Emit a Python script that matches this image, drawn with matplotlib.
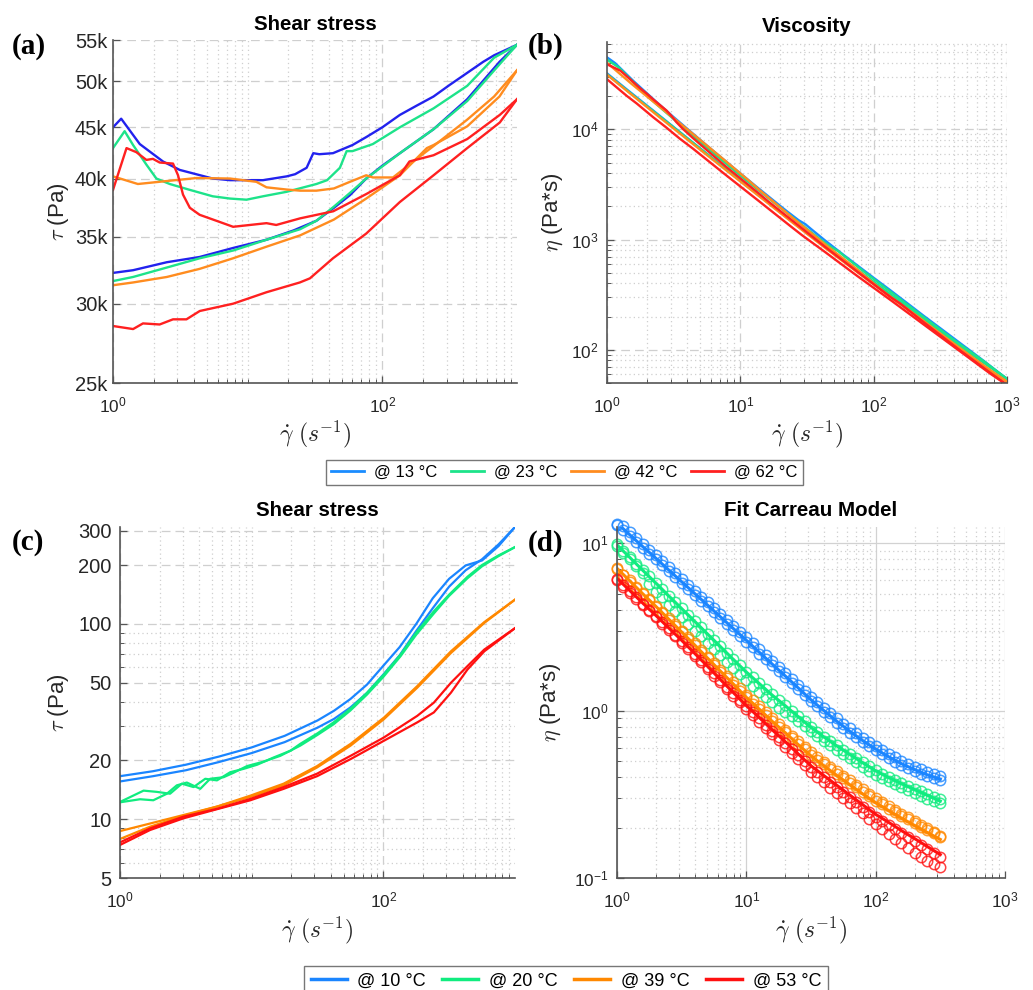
import numpy as np
import matplotlib
matplotlib.use("Agg")
import matplotlib.pyplot as plt
from matplotlib.lines import Line2D
from matplotlib.ticker import FixedLocator, FixedFormatter, NullFormatter, NullLocator

plt.rcParams['font.family'] = ['Liberation Sans', 'DejaVu Sans']
plt.rcParams['mathtext.fontset'] = 'cm'

# ---------------- (a) shear stress loops, stress in kPa ----------------
A13_UP_G = [1.0, 1.15, 1.58, 2.35, 3.13, 5.5, 7.4, 13.0, 19.5, 22.5, 27.4, 30.7, 34.0, 43.0, 60, 76, 100, 135, 180, 240, 316, 427, 560, 676, 1000]
A13_UP_T = [45.0, 45.9, 43.3, 41.6, 40.8, 40.0, 39.85, 39.85, 40.2, 40.4, 41.0, 42.4, 42.3, 42.4, 43.2, 44.0, 45.0, 46.3, 47.3, 48.3, 49.6, 51.0, 52.3, 53.1, 54.4]
A13_DN_G = [1, 1.41, 2.51, 4.4, 7.8, 13.8, 21.9, 32.4, 43.7, 57.5, 75.9, 100, 135, 240, 427, 741, 1000]
A13_DN_T = [32.2, 32.4, 33.0, 33.4, 34.1, 34.75, 35.5, 36.3, 37.4, 38.5, 40.0, 41.2, 42.4, 44.8, 48.0, 52.3, 54.4]

A23_UP_G = [1.0, 1.22, 1.41, 1.77, 2.1, 2.64, 3.72, 5.5, 7.4, 9.8, 13.0, 19.5, 32.4, 38.9, 48.4, 54.3, 60, 85, 135, 240, 427, 676, 1000]
A23_UP_T = [42.9, 44.6, 43.2, 41.3, 40.0, 39.5, 38.97, 38.4, 38.2, 38.1, 38.4, 38.8, 39.5, 39.85, 41.0, 42.6, 42.6, 43.3, 45.0, 47.0, 49.5, 52.8, 54.4]
A23_DN_G = [1, 1.41, 2.51, 4.4, 7.8, 13.8, 24.5, 32.4, 43.7, 57.5, 75.9, 135, 240, 427, 741, 1000]
A23_DN_T = [31.6, 31.9, 32.6, 33.3, 33.9, 34.75, 35.6, 36.3, 37.5, 38.7, 40.0, 42.4, 44.8, 47.8, 52.0, 54.4]

A42_UP_G = [1, 1.53, 2.9, 4.2, 7.4, 11.6, 13.8, 19.5, 24.5, 32.4, 43.7, 57.5, 75.9, 85, 120, 182, 240, 427, 676, 1000]
A42_UP_T = [40.2, 39.5, 39.85, 40.05, 40.0, 39.7, 39.2, 39.0, 38.9, 38.9, 39.1, 39.7, 40.3, 40.1, 40.1, 41.9, 43.1, 45.8, 48.3, 51.3]
A42_DN_G = [1, 1.41, 2.51, 4.4, 7.8, 13.8, 24.5, 43.7, 75.9, 135, 214, 240, 427, 741, 1000]
A42_DN_T = [31.3, 31.5, 31.9, 32.5, 33.3, 34.2, 35.1, 36.4, 38.2, 40.3, 42.9, 43.2, 45.1, 48.3, 51.3]

A62_UP_G = [1, 1.26, 1.49, 1.77, 1.98, 2.22, 2.79, 3.04, 3.31, 3.72, 4.4, 6.2, 7.8, 13.8, 16.3, 24.5, 43.2, 76, 135, 159, 240, 427, 745, 1000]
A62_UP_T = [38.97, 42.9, 42.5, 41.75, 41.85, 41.5, 41.4, 40.3, 38.55, 37.4, 36.8, 36.2, 35.8, 36.1, 35.95, 36.5, 37.1, 38.6, 40.3, 41.6, 42.2, 43.8, 46.3, 48.0]
A62_DN_G = [1, 1.41, 1.67, 2.22, 2.79, 3.51, 4.41, 7.8, 13.8, 24.4, 29, 43, 76, 135, 240, 427, 745, 1000]
A62_DN_T = [28.5, 28.3, 28.67, 28.6, 28.94, 28.94, 29.5, 30.0, 30.8, 31.5, 31.8, 33.3, 35.25, 37.9, 40.3, 42.9, 45.5, 48.0]

A_LOOPS = {
    13: [(A13_UP_G, A13_UP_T), (A13_DN_G, A13_DN_T)],
    23: [(A23_UP_G, A23_UP_T), (A23_DN_G, A23_DN_T)],
    42: [(A42_UP_G, A42_UP_T), (A42_DN_G, A42_DN_T)],
    62: [(A62_UP_G, A62_UP_T), (A62_DN_G, A62_DN_T)],
}
A_TEMPS = [13, 23, 42, 62]

# ---------------- (c) shear stress, Pa ----------------
C_GRID = [1, 1.78, 3.16, 5.62, 10, 17.8, 31.6, 42.2, 56.2, 75, 100, 133, 178, 237, 316, 422, 562, 750, 1000]
C10_UP_T = [16.6, 17.6, 19.0, 20.9, 23.3, 26.7, 32.0, 35.9, 41.2, 48.8, 61, 76, 100, 135, 170, 199, 211, 250, 313]
C10_DN_T = [15.6, 16.6, 17.8, 19.6, 21.8, 24.8, 29.4, 32.6, 37.3, 44.2, 55, 69, 92, 120, 155, 188, 214, 255, 313]

C20_UP_G = [1, 1.51, 1.9, 2.4, 2.95, 3.62, 4.44, 5.45, 6.88, 8.69, 11.0, 14.7, 19.7, 23.4,
            31.6, 41.9, 56.2, 75.3, 100, 135, 178, 242, 316, 435, 562, 750, 1000]
C20_UP_T = [12.25, 14.0, 13.8, 13.5, 15.2, 14.6, 16.1, 15.8, 17.4, 18.1, 19.0, 20.7, 22.4, 24.3,
            27.5, 31.3, 36.7, 44.4, 54.6, 69.5, 90.2, 116, 141, 174, 200, 224, 247]
C20_DN_G = [1, 1.42, 1.79, 2.27, 2.7, 3.22, 4.07, 4.84, 6.12, 7.3, 9.22, 12.3, 16.5, 23.4,
            31.6, 41.9, 56.2, 75.3, 100, 135, 178, 242, 316, 435, 562, 750, 1000]
C20_DN_T = [12.2, 12.65, 12.5, 13.5, 14.9, 15.4, 14.3, 16.1, 16.4, 17.3, 18.7, 19.7, 21.1, 23.8,
            27.0, 30.6, 36.0, 43.5, 53.5, 68.2, 88.1, 113, 139, 171, 197, 222, 247]

C39_UP_G = [1, 1.69, 3.03, 5.45, 9.78, 17.5, 31.4, 56.4, 101, 181, 326, 584, 1000]
C39_UP_T = [8.69, 9.5, 10.5, 11.6, 13.0, 14.9, 18.4, 23.8, 32.5, 47.1, 70.9, 101, 133]
C39_DN_G = [1, 1.69, 3.03, 5.45, 9.78, 17.5, 31.4, 56.4, 101, 181, 326, 584, 1000]
C39_DN_T = [7.92, 9.15, 10.4, 11.6, 13.2, 15.2, 18.7, 24.3, 33.1, 48.0, 72.3, 102, 133]

C53_UP_G = [1, 1.69, 3.03, 5.45, 9.78, 17.5, 31.4, 56.4, 101, 181, 242, 326, 435, 584, 1000]
C53_UP_T = [7.61, 8.97, 10.3, 11.3, 12.7, 14.6, 17.1, 21.1, 26.2, 33.8, 39.5, 49.9, 60.7, 73.8, 95]
C53_DN_G = [1, 1.69, 3.03, 5.45, 9.78, 17.5, 31.4, 56.4, 101, 181, 242, 326, 435, 584, 1000]
C53_DN_T = [7.38, 8.8, 10.1, 11.25, 12.5, 14.3, 16.6, 20.3, 25.2, 31.3, 35.2, 44.4, 58.3, 72.3, 95]

C_LOOPS = {
    10: [(C_GRID, C10_UP_T), (C_GRID, C10_DN_T)],
    20: [(C20_UP_G, C20_UP_T), (C20_DN_G, C20_DN_T)],
    39: [(C39_UP_G, C39_UP_T), (C39_DN_G, C39_DN_T)],
    53: [(C53_UP_G, C53_UP_T), (C53_DN_G, C53_DN_T)],
}
C_TEMPS = [10, 20, 39, 53]

# ---------------- (d) viscosity data (two sweeps) and Carreau fits, Pa*s ----------------
GAMMA_D = [1.00, 1.12, 1.26, 1.41, 1.58, 1.78, 2.00, 2.24, 2.51, 2.82,
           3.16, 3.55, 3.98, 4.47, 5.01, 5.62, 6.31, 7.08, 7.94, 8.91,
           10.0, 11.2, 12.6, 14.1, 15.8, 17.8, 20.0, 22.4, 25.1, 28.2,
           31.6, 35.5, 39.8, 44.7, 50.1, 56.2, 63.1, 70.8, 79.4, 89.1,
           100, 112, 126, 141, 158, 178, 200, 224, 251, 282, 316]

D10_A = [13.1, 12.0, 11.0, 10.2, 9.4, 8.65, 8.0, 7.37, 6.8, 6.27,
         5.79, 5.33, 4.92, 4.54, 4.19, 3.87, 3.57, 3.29, 3.04, 2.8,
         2.58, 2.39, 2.19, 2.02, 1.87, 1.72, 1.58, 1.46, 1.35, 1.24,
         1.14, 1.06, 0.98, 0.91, 0.848, 0.79, 0.738, 0.692, 0.65, 0.613,
         0.579, 0.548, 0.521, 0.496, 0.474, 0.453, 0.436, 0.42, 0.406, 0.394, 0.383]
D10_B = [12.9, 12.7, 11.65, 10.8, 9.93, 9.16, 8.46, 7.8, 7.2, 6.64,
         6.13, 5.65, 5.21, 4.8, 4.44, 4.1, 3.78, 3.48, 3.21, 2.96,
         2.74, 2.53, 2.32, 2.14, 1.98, 1.82, 1.67, 1.55, 1.42, 1.31,
         1.21, 1.12, 1.04, 0.964, 0.898, 0.837, 0.782, 0.733, 0.688, 0.649,
         0.613, 0.58, 0.551, 0.525, 0.501, 0.479, 0.462, 0.445, 0.43, 0.417, 0.405]
D20_A = [9.9, 9.0, 8.25, 7.55, 6.9, 6.35, 5.8, 5.32, 4.87, 4.46,
         4.08, 3.74, 3.43, 3.14, 2.88, 2.64, 2.42, 2.22, 2.03, 1.86,
         1.71, 1.58, 1.46, 1.35, 1.25, 1.16, 1.08, 1.0, 0.93, 0.865,
         0.80, 0.75, 0.70, 0.66, 0.62, 0.585, 0.552, 0.52, 0.492, 0.466,
         0.44, 0.42, 0.40, 0.385, 0.37, 0.355, 0.342, 0.33, 0.318, 0.306, 0.295]
D20_B = [9.6, 8.8, 8.0, 7.3, 6.6, 5.7, 5.1, 4.75, 4.3, 3.95,
         3.6, 3.3, 3.0, 2.78, 2.55, 2.33, 2.14, 1.96, 1.80, 1.65,
         1.52, 1.40, 1.30, 1.20, 1.12, 1.04, 0.98, 0.93, 0.87, 0.81,
         0.755, 0.705, 0.66, 0.62, 0.585, 0.55, 0.518, 0.49, 0.462, 0.437,
         0.415, 0.395, 0.378, 0.362, 0.348, 0.335, 0.322, 0.31, 0.298, 0.288, 0.28]
D39_A = [7.0, 6.45, 5.9, 5.42, 4.96, 4.55, 4.17, 3.82, 3.5, 3.2,
         2.94, 2.69, 2.46, 2.24, 2.05, 1.87, 1.71, 1.56, 1.43, 1.31,
         1.2, 1.1, 1.02, 0.94, 0.87, 0.80, 0.745, 0.69, 0.635, 0.59,
         0.545, 0.51, 0.477, 0.447, 0.42, 0.394, 0.37, 0.348, 0.327, 0.308,
         0.29, 0.275, 0.26, 0.247, 0.235, 0.224, 0.213, 0.203, 0.194, 0.185, 0.176]
D39_B = [7.1, 6.5, 6.0, 5.5, 5.05, 4.62, 4.24, 3.9, 3.57, 3.27,
         3.0, 2.75, 2.52, 2.3, 2.1, 1.92, 1.76, 1.61, 1.48, 1.36,
         1.24, 1.15, 1.06, 0.975, 0.9, 0.83, 0.77, 0.71, 0.66, 0.61,
         0.565, 0.528, 0.494, 0.463, 0.434, 0.408, 0.383, 0.36, 0.339, 0.319,
         0.3, 0.284, 0.269, 0.255, 0.242, 0.23, 0.219, 0.208, 0.198, 0.188, 0.178]
D53_A = [6.1, 5.62, 5.15, 4.75, 4.36, 4.0, 3.67, 3.37, 3.1, 2.84,
         2.61, 2.39, 2.19, 2.0, 1.83, 1.67, 1.52, 1.39, 1.27, 1.16,
         1.06, 0.975, 0.898, 0.826, 0.759, 0.698, 0.642, 0.59, 0.542, 0.498,
         0.458, 0.428, 0.399, 0.373, 0.348, 0.326, 0.304, 0.284, 0.266, 0.249,
         0.233, 0.22, 0.208, 0.196, 0.186, 0.176, 0.166, 0.157, 0.149, 0.141, 0.133]
D53_B = [6.0, 5.5, 5.05, 4.65, 4.27, 3.92, 3.6, 3.3, 3.03, 2.78,
         2.55, 2.33, 2.13, 1.95, 1.78, 1.62, 1.48, 1.35, 1.23, 1.12,
         1.02, 0.94, 0.86, 0.79, 0.725, 0.665, 0.61, 0.56, 0.513, 0.47,
         0.43, 0.4, 0.372, 0.346, 0.322, 0.3, 0.28, 0.261, 0.243, 0.226,
         0.211, 0.197, 0.184, 0.172, 0.161, 0.151, 0.142, 0.134, 0.127, 0.121, 0.116]

# fitted curves, every other shear rate of GAMMA_D
D10_FIT = [13.2, 11.2, 9.55, 8.13, 6.92, 5.89, 5.01, 4.27, 3.63, 3.09, 2.63, 2.23, 1.90,
           1.61, 1.37, 1.16, 1.00, 0.863, 0.752, 0.662, 0.589, 0.530, 0.482, 0.444, 0.413, 0.389]
D20_FIT = [9.77, 8.20, 6.89, 5.78, 4.85, 4.07, 3.42, 2.87, 2.41, 2.02, 1.70, 1.45, 1.24,
           1.07, 0.920, 0.794, 0.695, 0.615, 0.547, 0.488, 0.437, 0.398, 0.366, 0.337, 0.312, 0.288]
D39_FIT = [7.08, 5.94, 4.99, 4.19, 3.52, 2.95, 2.47, 2.06, 1.72, 1.44, 1.20, 1.02, 0.865,
           0.738, 0.628, 0.537, 0.468, 0.410, 0.361, 0.318, 0.282, 0.253, 0.228, 0.206, 0.187, 0.170]
D53_FIT = [6.17, 5.20, 4.39, 3.70, 3.12, 2.63, 2.20, 1.84, 1.53, 1.28, 1.07, 0.908, 0.769,
           0.652, 0.552, 0.468, 0.409, 0.358, 0.313, 0.274, 0.240, 0.215, 0.192, 0.172, 0.154, 0.138]

D_SWEEPS = {10: (D10_A, D10_B), 20: (D20_A, D20_B), 39: (D39_A, D39_B), 53: (D53_A, D53_B)}
D_FIT = {10: D10_FIT, 20: D20_FIT, 39: D39_FIT, 53: D53_FIT}

# colours
TOP_LINE = {13: '#2222ee', 23: '#1de38a', 42: '#ff8c1f', 62: '#ff2020'}
TOP_LEG = {13: '#1a8cff', 23: '#1de38a', 42: '#ff8c1f', 62: '#ff2020'}
BOT = {10: '#1a85ff', 20: '#10ec7f', 39: '#ff8800', 53: '#ff1010'}

W, H = 1033, 990
TICK_FS = 12.4      # 10^n labels
PLAIN_FS = 14.5     # plain number labels
TITLE_FS = 14.8
YLAB_FS = 16
XLAB_FS = 17


def rect(left, top, right, bottom):
    return [left / W, 1 - bottom / H, (right - left) / W, (bottom - top) / H]


def decade_minors(lo, hi, skip=()):
    vals = []
    for e in range(lo, hi):
        for m in range(1, 10):
            if m == 1 and e not in skip:
                continue
            vals.append(m * 10.0 ** e)
    return vals


def style(ax, xmaj, xmin, ymaj, ymin, solid_major=False):
    ax.set_xscale('log')
    ax.set_yscale('log')
    for s in ('top', 'right'):
        ax.spines[s].set_visible(False)
    for s in ('left', 'bottom'):
        ax.spines[s].set_color('#555555')
        ax.spines[s].set_linewidth(1.2)
    ax.xaxis.set_major_locator(FixedLocator(xmaj))
    ax.xaxis.set_minor_locator(FixedLocator(xmin))
    ax.xaxis.set_minor_formatter(NullFormatter())
    ax.yaxis.set_major_locator(FixedLocator(ymaj))
    if ymin:
        ax.yaxis.set_minor_locator(FixedLocator(ymin))
    else:
        ax.yaxis.set_minor_locator(NullLocator())
    ax.yaxis.set_minor_formatter(NullFormatter())
    ax.tick_params(which='both', direction='in', colors='#555555',
                   labelcolor='#262626', labelsize=TICK_FS, top=False, right=False)
    ax.tick_params(which='major', length=5, width=0.9)
    ax.tick_params(which='minor', length=3, width=0.7)
    ax.tick_params(axis='x', which='major', pad=9)
    ax.tick_params(axis='y', which='major', pad=6)
    if solid_major:
        ax.grid(True, which='major', ls='-', color='#d2d2d2', lw=0.9)
    else:
        ax.grid(True, which='major', ls=(0, (7, 4)), color='#cfcfcf', lw=0.9)
    ax.grid(True, which='minor', ls=(0, (1, 2.5)), color='#cfcfcf', lw=0.9)
    ax.set_axisbelow(True)


fig = plt.figure(figsize=(W / 100, H / 100), dpi=100)

ax_a = fig.add_axes(rect(113, 40, 517, 383))
ax_b = fig.add_axes(rect(607, 42, 1007, 383))
ax_c = fig.add_axes(rect(120, 527, 515, 878))
ax_d = fig.add_axes(rect(617, 527, 1005, 878))

xlab = r'$\dot{\gamma}\ (s^{-1})$'
two_dec_minor = decade_minors(0, 3, skip=(1,))

# (a) shear stress
for t in A_TEMPS:
    for g, tau in A_LOOPS[t]:
        ax_a.plot(g, np.array(tau) * 1000, color=TOP_LINE[t], lw=1.7)
style(ax_a, [1, 100], two_dec_minor, [25e3, 30e3, 35e3, 40e3, 45e3, 50e3, 55e3], None)
ax_a.yaxis.set_major_formatter(FixedFormatter(['25k', '30k', '35k', '40k', '45k', '50k', '55k']))
ax_a.tick_params(axis='y', labelsize=PLAIN_FS, pad=4)
ax_a.set_xlim(1, 1000)
ax_a.set_ylim(25e3, 55e3)
ax_a.set_title('Shear stress', fontsize=TITLE_FS, fontweight='bold', pad=7)
ax_a.set_ylabel(r'$\tau$ (Pa)', fontsize=YLAB_FS, color='#262626')
ax_a.yaxis.set_label_coords(-0.105, 0.5)

# (b) viscosity = stress / shear rate
for t in A_TEMPS:
    for g, tau in A_LOOPS[t]:
        ax_b.plot(g, np.array(tau) * 1000 / np.array(g), color=TOP_LEG[t], lw=1.7)
style(ax_b, [1, 10, 100, 1000], decade_minors(0, 3), [1e2, 1e3, 1e4], decade_minors(1, 5))
ax_b.set_xlim(1, 1000)
ax_b.set_ylim(50, 62000)
ax_b.set_title('Viscosity', fontsize=TITLE_FS, fontweight='bold', pad=7)
ax_b.set_ylabel(r'$\eta$ (Pa*s)', fontsize=YLAB_FS, color='#262626')
ax_b.yaxis.set_label_coords(-0.105, 0.5)

# (c) shear stress
for t in C_TEMPS:
    for g, tau in C_LOOPS[t]:
        ax_c.plot(g, tau, color=BOT[t], lw=1.6)
style(ax_c, [1, 100], two_dec_minor, [5, 10, 20, 50, 100, 200, 300],
      [6, 7, 8, 9, 30, 40, 60, 70, 80, 90])
ax_c.yaxis.set_major_formatter(FixedFormatter(['5', '10', '20', '50', '100', '200', '300']))
ax_c.tick_params(axis='y', labelsize=PLAIN_FS)
ax_c.set_xlim(1, 1000)
ax_c.set_ylim(5, 313)
ax_c.set_title('Shear stress', fontsize=TITLE_FS, fontweight='bold', pad=8)
ax_c.set_ylabel(r'$\tau$ (Pa)', fontsize=YLAB_FS, color='#262626')
ax_c.yaxis.set_label_coords(-0.125, 0.5)

# (d) measured points of both sweeps with the Carreau fit on top
gd = np.array(GAMMA_D)
for t in C_TEMPS:
    for pts in D_SWEEPS[t]:
        ax_d.plot(gd, pts, 'o', mfc='none', mec=BOT[t], ms=7.5, mew=1.1,
                  alpha=0.8, clip_on=False)
for t in C_TEMPS:
    ax_d.plot(gd[::2], D_FIT[t], color=BOT[t], lw=2.2)
style(ax_d, [1, 10, 100, 1000], decade_minors(0, 3), [0.1, 1, 10], decade_minors(-1, 2),
      solid_major=True)
ax_d.set_xlim(1, 1000)
ax_d.set_ylim(0.1, 12.5)
ax_d.set_title('Fit Carreau Model', fontsize=TITLE_FS, fontweight='bold', pad=8)
ax_d.set_ylabel(r'$\eta$ (Pa*s)', fontsize=YLAB_FS, color='#262626')
ax_d.yaxis.set_label_coords(-0.14, 0.5)

for ax in (ax_a, ax_b, ax_c, ax_d):
    ax.set_xlabel(xlab, fontsize=XLAB_FS, color='#262626')
    ax.xaxis.set_label_coords(0.5, -0.105)

# panel letters
for txt, x, y in [('(a)', 12, 46), ('(b)', 528, 46), ('(c)', 12, 542), ('(d)', 528, 543)]:
    fig.text(x / W, 1 - y / H, txt, fontfamily='Liberation Serif', fontweight='bold',
             fontsize=21, ha='left', va='center')

# legends
top_handles = [Line2D([], [], color=TOP_LEG[t], lw=2) for t in A_TEMPS]
leg1 = fig.legend(top_handles, ['@ %d °C' % t for t in A_TEMPS], loc='center',
                  bbox_to_anchor=(564.5 / W, 1 - 472 / H), ncol=4, fontsize=12,
                  frameon=True, fancybox=False, edgecolor='#555555',
                  handlelength=2.0, handletextpad=0.6, columnspacing=0.8,
                  borderpad=0.3, borderaxespad=0)
leg1.get_frame().set_linewidth(1.0)

bot_handles = [Line2D([], [], color=BOT[t], lw=2.5) for t in C_TEMPS]
leg2 = fig.legend(bot_handles, ['@ %d °C' % t for t in C_TEMPS], loc='center',
                  bbox_to_anchor=(566 / W, 1 - 981 / H), ncol=4, fontsize=13,
                  frameon=True, fancybox=False, edgecolor='#555555',
                  handlelength=2.0, handletextpad=0.6, columnspacing=0.9,
                  borderpad=0.35, borderaxespad=0)
leg2.get_frame().set_linewidth(1.0)

fig.savefig('out.png', dpi=100)
